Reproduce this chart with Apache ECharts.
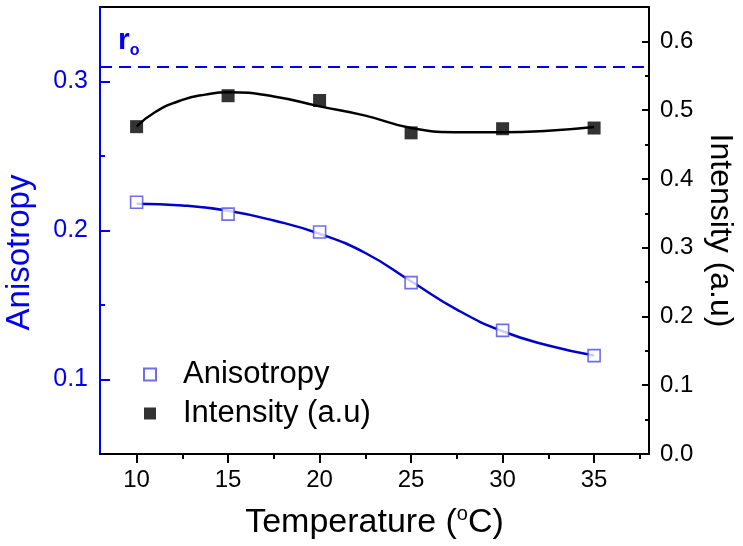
<!DOCTYPE html>
<html>
<head>
<meta charset="utf-8">
<script src="https://cdn.jsdelivr.net/npm/echarts@6/dist/echarts.min.js"></script>
<style>html,body{margin:0;padding:0;background:#fff}#c{width:743px;height:546px}</style>
</head>
<body>
<div id="c"></div>
<script>
// ---- data ----
const temps = [10, 15, 20, 25, 30, 35];
const anisotropy = [0.219, 0.211, 0.199, 0.165, 0.133, 0.116];
const intensity = [0.476, 0.521, 0.514, 0.467, 0.473, 0.474];
// fitted curves
const anisoFitX = [10, 12.5, 15, 17.5, 20, 22.5, 25, 27.5, 30, 32.5, 35];
const anisoFit = [0.218, 0.2168, 0.2132, 0.2067, 0.1978, 0.1849, 0.1659, 0.1469, 0.1324, 0.1228, 0.1161];
const intFitX = [10, 11, 12.5, 13.75, 15, 17.5, 20, 22.5, 25, 27.5, 30, 32.5, 35];
const intFit = [0.476, 0.497, 0.515, 0.5226, 0.526, 0.520, 0.5055, 0.492, 0.474, 0.468, 0.4677, 0.470, 0.4755];
const r0 = 0.31;
// ticks
const xMajor = [10, 15, 20, 25, 30, 35];
const xMinor = [12.5, 17.5, 22.5, 27.5, 32.5, 37.5];
const leftMajor = [0.1, 0.2, 0.3];
const leftMinor = [0.15, 0.25];
const rightMajor = [0, 0.1, 0.2, 0.3, 0.4, 0.5, 0.6];
const rightMinor = [0.05, 0.15, 0.25, 0.35, 0.45, 0.55];

const BLUE = '#0000ee';
const FONT = 'Liberation Sans';
const zip = (a, b) => a.map((v, i) => [v, b[i]]);

const chart = echarts.init(document.getElementById('c'), null, {renderer: 'canvas'});
const xBase = {type: 'value', min: 8, max: 38, position: 'bottom', splitLine: {show: false}};
const lBase = {type: 'value', min: 0.05, max: 0.35, position: 'left', splitLine: {show: false}};
const rBase = {type: 'value', min: 0, max: 0.65, position: 'right', splitLine: {show: false}};

chart.setOption({
  animation: false,
  grid: {left: 100, right: 94, top: 7, bottom: 92, show: true, borderColor: '#000', borderWidth: 2,
    backgroundColor: 'transparent', containLabel: false, outerBoundsMode: 'none'},
  textStyle: {fontFamily: FONT},
  xAxis: [
    Object.assign({}, xBase, {
      name: '{a|Temperature (}{s|o}{a|C)}', nameLocation: 'middle', nameGap: 50,
      nameTextStyle: {rich: {
        a: {fontSize: 34, color: '#000', fontFamily: FONT},
        s: {fontSize: 20, color: '#000', fontFamily: FONT, padding: [0, 0, 18, 0]}
      }},
      axisLine: {lineStyle: {color: '#000', width: 2}},
      axisTick: {inside: false, length: 9, lineStyle: {width: 2, color: '#000'}, customValues: xMajor},
      axisLabel: {customValues: xMajor, fontSize: 24, color: '#000', margin: 14, fontFamily: FONT}
    }),
    Object.assign({}, xBase, {
      axisLine: {show: false},
      axisTick: {inside: false, length: 5, lineStyle: {width: 2, color: '#000'}, customValues: xMinor},
      axisLabel: {show: false}
    })
  ],
  yAxis: [
    Object.assign({}, lBase, {
      name: 'Anisotropy', nameLocation: 'middle', nameGap: 64, nameRotate: 90,
      nameTextStyle: {fontSize: 33, color: BLUE, fontFamily: FONT, padding: [0, 44, 0, 0]},
      axisLine: {show: true, lineStyle: {color: BLUE, width: 2}},
      axisTick: {inside: true, length: 10, lineStyle: {width: 2, color: BLUE}, customValues: leftMajor},
      axisLabel: {customValues: leftMajor, fontSize: 25, color: BLUE, margin: 12, fontFamily: FONT,
        formatter: v => v.toFixed(1)}
    }),
    Object.assign({}, lBase, {
      axisLine: {show: false},
      axisTick: {inside: true, length: 5, lineStyle: {width: 2, color: BLUE}, customValues: leftMinor},
      axisLabel: {show: false}
    }),
    Object.assign({}, rBase, {
      name: 'Intensity (a.u)', nameLocation: 'middle', nameGap: 52, nameRotate: -90,
      nameTextStyle: {fontSize: 32, color: '#000', fontFamily: FONT},
      axisLine: {show: true, lineStyle: {color: '#000', width: 2}},
      axisTick: {inside: true, length: 7, lineStyle: {width: 2, color: '#000'}, customValues: rightMajor},
      axisLabel: {customValues: rightMajor, fontSize: 24, color: '#000', margin: 11, fontFamily: FONT,
        formatter: v => v.toFixed(1)}
    }),
    Object.assign({}, rBase, {
      axisLine: {show: false},
      axisTick: {inside: true, length: 4, lineStyle: {width: 2, color: '#000'}, customValues: rightMinor},
      axisLabel: {show: false}
    })
  ],
  legend: {
    orient: 'vertical', left: 138, top: 354, itemWidth: 12, itemHeight: 12, itemGap: 8,
    textStyle: {fontSize: 31, color: '#000', fontFamily: FONT, lineHeight: 31, padding: [0, 0, 0, 22]},
    data: ['Anisotropy', 'Intensity (a.u)']
  },
  series: [
    {
      name: 'AnisoFit', type: 'line', xAxisIndex: 0, yAxisIndex: 0, data: zip(anisoFitX, anisoFit),
      smooth: 0.5, showSymbol: false, symbol: 'none', lineStyle: {color: '#0000cc', width: 2.5}, z: 2,
      markLine: {
        silent: true, symbol: 'none',
        lineStyle: {type: [12, 7], color: BLUE, width: 2},
        label: {show: true, position: 'insideStartTop', distance: [18, 8],
          formatter: '{r|r}{s|o}',
          rich: {
            r: {fontSize: 30, fontWeight: 'bold', color: BLUE, fontFamily: FONT},
            s: {fontSize: 16, fontWeight: 'bold', color: BLUE, fontFamily: FONT, padding: [20, 0, 0, 0]}
          }},
        data: [{yAxis: r0}]
      }
    },
    {
      name: 'IntFit', type: 'line', xAxisIndex: 0, yAxisIndex: 2, data: zip(intFitX, intFit),
      smooth: 0.5, showSymbol: false, symbol: 'none', lineStyle: {color: '#000', width: 2.5}, z: 2
    },
    {
      name: 'Anisotropy', type: 'scatter', xAxisIndex: 0, yAxisIndex: 0, data: zip(temps, anisotropy),
      symbol: 'rect', symbolSize: 12, itemStyle: {color: '#fff', borderColor: '#4a4ae6', borderWidth: 1.6}, z: 3
    },
    {
      name: 'Intensity (a.u)', type: 'scatter', xAxisIndex: 0, yAxisIndex: 2, data: zip(temps, intensity),
      symbol: 'rect', symbolSize: 13, itemStyle: {color: '#000'}, z: 3
    }
  ]
});
</script>
</body>
</html>
